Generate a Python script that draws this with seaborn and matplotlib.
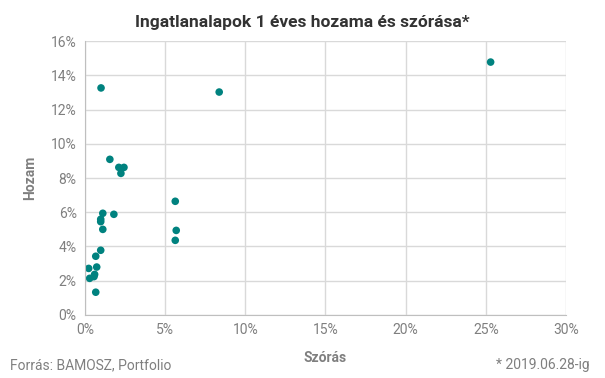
import pandas as pd
import seaborn as sns
import matplotlib.pyplot as plt
from matplotlib.ticker import PercentFormatter

# Szórás (x) és hozam (y), százalékban
szoras = [1.0, 8.37, 25.3, 1.55, 2.11, 2.43, 2.24, 1.11, 1.80, 0.98, 0.98, 1.11,
          5.63, 5.69, 5.63, 0.98, 0.67, 0.73, 0.23, 0.60, 0.56, 0.29, 0.67]
hozam = [13.26, 13.02, 14.77, 9.09, 8.62, 8.62, 8.27, 5.94, 5.88, 5.59, 5.45, 5.00,
         6.64, 4.94, 4.36, 3.78, 3.43, 2.80, 2.72, 2.37, 2.24, 2.14, 1.33]

df = pd.DataFrame({'Szórás': szoras, 'Hozam': hozam})

sns.set_style("whitegrid")
plt.rcParams['font.family'] = ['Roboto', 'DejaVu Sans']

grey = '#7f7f7f'
fig = plt.figure(figsize=(6.05, 3.78), dpi=100)
ax = fig.add_axes([0.1405, 0.1667, 0.795, 0.7248])

sns.scatterplot(data=df, x='Szórás', y='Hozam', color='#00827f', s=30,
                edgecolor='none', ax=ax)

ax.set_xlim(0, 30)
ax.set_ylim(0, 16)
ax.set_xticks(range(0, 31, 5))
ax.set_yticks(range(0, 17, 2))
ax.xaxis.set_major_formatter(PercentFormatter(decimals=0))
ax.yaxis.set_major_formatter(PercentFormatter(decimals=0))
ax.tick_params(colors=grey, labelsize=10, length=0, pad=6)
ax.grid(color='#d9d9d9', linewidth=1)
for side in ['top', 'right']:
    ax.spines[side].set_visible(False)
for side in ['left', 'bottom']:
    ax.spines[side].set_color('#bfbfbf')

ax.set_xlabel('Szórás', color=grey, fontsize=10, fontweight='bold', labelpad=10)
ax.set_ylabel('Hozam', color=grey, fontsize=10, fontweight='bold', labelpad=10)

fig.text(0.5, 0.94, 'Ingatlanalapok 1 éves hozama és szórása*', ha='center',
         va='center', fontsize=12.5, fontweight='bold', color='#333333')
fig.text(0.017, 0.034, 'Forrás: BAMOSZ, Portfolio', ha='left', va='center',
         fontsize=10, color=grey)
fig.text(0.975, 0.034, '* 2019.06.28-ig', ha='right', va='center',
         fontsize=10, color=grey)

fig.savefig('out.png', dpi=100)
